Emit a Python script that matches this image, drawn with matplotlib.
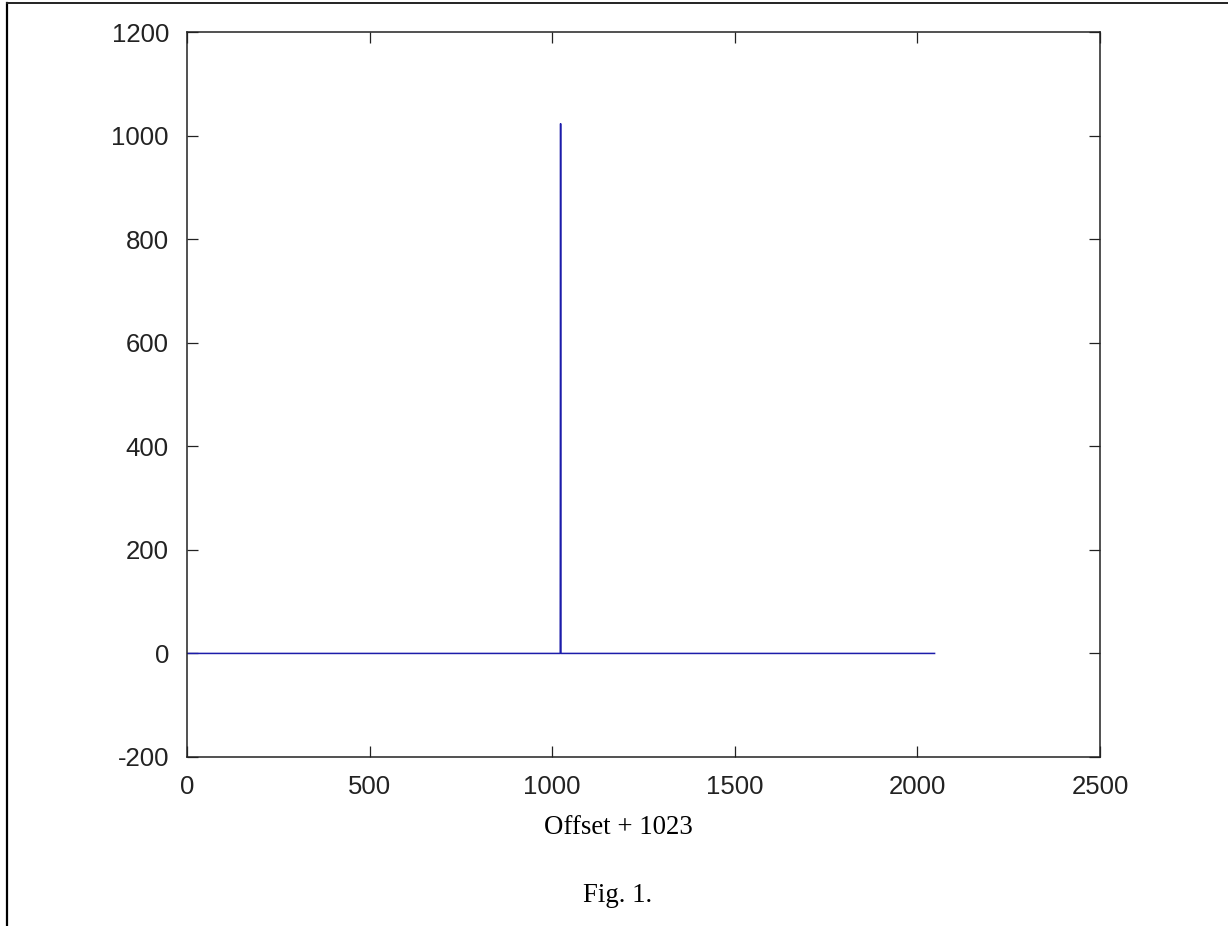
import matplotlib.pyplot as plt
from matplotlib.lines import Line2D

# impulse at offset 1023, zero elsewhere over 0..2047
offset = [0, 1022, 1023, 1024, 2047]
amplitude = [0, 0, 1023, 0, 0]

x_ticks = [0, 500, 1000, 1500, 2000, 2500]
y_ticks = [-200, 0, 200, 400, 600, 800, 1000, 1200]

W, H = 1228, 926


def main():
    plt.rcParams['axes.unicode_minus'] = False
    fig = plt.figure(figsize=(W / 100, H / 100), dpi=100)
    ax = fig.add_axes([187 / W, 1 - 757 / H, (1100 - 187) / W, (757 - 32) / H])

    ax.plot(offset, amplitude, color='#1c1caa', lw=1.1)

    ax.set_xlim(0, 2500)
    ax.set_ylim(-200, 1200)
    ax.set_xticks(x_ticks)
    ax.set_yticks(y_ticks)
    ax.tick_params(direction='in', length=8, width=0.9, top=True, right=True,
                   labelsize=18.5, pad=13, colors='#222222')
    for lab in ax.get_xticklabels() + ax.get_yticklabels():
        lab.set_family('Liberation Sans')
    for sp in ax.spines.values():
        sp.set_linewidth(1.1)
        sp.set_color('#222222')

    fig.text(618 / W, 1 - 828 / H, 'Offset + 1023', ha='center', va='center',
             family='Liberation Serif', fontsize=19.3)
    fig.text(618 / W, 1 - 895 / H, 'Fig. 1.', ha='center', va='center',
             family='Liberation Serif', fontsize=19.3)

    # page frame (top and left edges only)
    fig.add_artist(Line2D([6.5 / W, 6.5 / W], [0, 1 - 3 / H], color='black',
                          lw=1.6, transform=fig.transFigure))
    fig.add_artist(Line2D([6.5 / W, 1], [1 - 3 / H, 1 - 3 / H], color='#222222',
                          lw=1.4, transform=fig.transFigure))

    fig.savefig('out.png', dpi=100)


if __name__ == '__main__':
    main()
